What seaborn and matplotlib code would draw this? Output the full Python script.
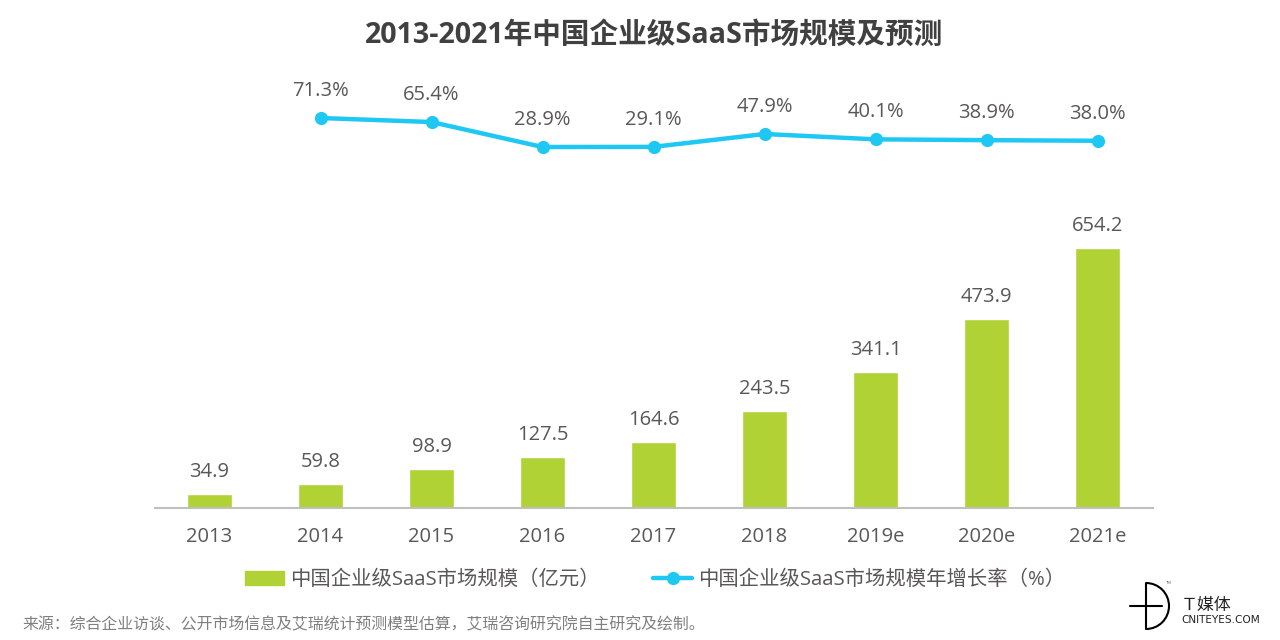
import matplotlib
matplotlib.use("Agg")
import matplotlib.pyplot as plt
from matplotlib.lines import Line2D
from matplotlib.patches import Patch, Arc
import seaborn as sns
import pandas as pd

years = ["2013", "2014", "2015", "2016", "2017", "2018", "2019e", "2020e", "2021e"]
market_size = [34.9, 59.8, 98.9, 127.5, 164.6, 243.5, 341.1, 473.9, 654.2]
growth_years = ["2014", "2015", "2016", "2017", "2018", "2019e", "2020e", "2021e"]
growth_rate = [71.3, 65.4, 28.9, 29.1, 47.9, 40.1, 38.9, 38.0]
bar_label = "中国企业级SaaS市场规模\uff08亿元\uff09"
line_label = "中国企业级SaaS市场规模年增长率\uff08%\uff09"
title = "2013-2021年中国企业级SaaS市场规模及预测"
source = ("来源\uff1a综合企业访谈、公开市场信息及艾瑞统计预测模型估算\uff0c"
          "艾瑞咨询研究院自主研究及绘制。")

GREEN = "#b0d235"
BLUE = "#1fc8f3"
TEXT = "#595757"

sns.set_theme(style="white")
plt.rcParams["font.family"] = ["Open Sans", "Noto Sans CJK SC", "DejaVu Sans"]

W, H = 1280, 640
fig = plt.figure(figsize=(12.8, 6.4), dpi=100, facecolor="white")

def px_axes(x0, y_top, x1, y_bot):
    return fig.add_axes([x0 / W, 1 - y_bot / H, (x1 - x0) / W, (y_bot - y_top) / H])

XLIM = (-54.5 / 111, 8 + 55.5 / 111)

# bars
ax = px_axes(155, 208, 1153, 508)
df = pd.DataFrame({"year": years, "value": market_size})
sns.barplot(data=df, x="year", y="value", order=years, color=GREEN, saturation=1,
            width=0.405, ax=ax)
ax.set_xlim(*XLIM)
ax.set_ylim(0, 300 / 0.398)
for i, v in enumerate(market_size):
    ax.annotate(f"{v:.1f}", (i, v), xytext=(0, 12), textcoords="offset pixels",
                ha="center", va="bottom", fontsize=14.5, color=TEXT)
sns.despine(ax=ax, left=True, top=True, right=True)
ax.spines["bottom"].set_color("#bfbfbf")
ax.spines["bottom"].set_linewidth(1.5)
ax.set_xlabel("")
ax.set_ylabel("")
ax.set_yticks([])
ax.tick_params(axis="x", length=0, pad=14, labelsize=14.5, labelcolor=TEXT)

# growth line
lax = px_axes(155, 60, 1153, 200)
lax.patch.set_alpha(0)
ldf = pd.DataFrame({"year": growth_years, "rate": growth_rate})
ldf["pos"] = [years.index(y) for y in growth_years]
sns.lineplot(data=ldf, x="pos", y="rate", color=BLUE, linewidth=3.2, marker="o",
             markersize=9.5, markeredgewidth=0, ax=lax)
lax.set_xlim(*XLIM)
# 0.684 px per percentage point, 71.3 placed at y=118
lax.set_ylim(71.3 - (200 - 118) / 0.684, 71.3 + (118 - 60) / 0.684)
for p, v in zip(ldf["pos"], growth_rate):
    lax.annotate(f"{v:.1f}%", (p, v), xytext=(0, 17), textcoords="offset pixels",
                 ha="center", va="bottom", fontsize=14.5, color=TEXT)
lax.axis("off")

# title, legend, source
fig.text(654 / W, 1 - 35 / H, title, ha="center", va="center", fontsize=20.6,
         fontweight="bold", color="#404040")
handles = [Patch(color=GREEN, label=bar_label),
           Line2D([0], [0], color=BLUE, lw=3.2, marker="o", ms=9.5, mew=0, label=line_label)]
fig.legend(handles=handles, loc="center", bbox_to_anchor=(655 / W, 1 - 580 / H), ncol=2,
           frameon=False, fontsize=14.65, labelcolor=TEXT, handlelength=1.9,
           handletextpad=0.3, columnspacing=2.65)
fig.text(22 / W, 1 - 625 / H, source, ha="left", va="center", fontsize=11.45, color="#7f7f7f")

# logo
logo = fig.add_axes([0, 0, 1, 1], facecolor="none")
logo.set_xlim(0, W)
logo.set_ylim(H, 0)
logo.axis("off")
logo.plot([1130, 1162], [606, 606], color="black", lw=1.5)
logo.plot([1146, 1146], [583, 629], color="black", lw=1.5)
logo.add_patch(Arc((1146, 606), 46, 46, theta1=-90, theta2=90, color="black", lw=1.5))
logo.text(1181, 605, "\uff34媒体", ha="left", va="center", fontsize=12.2, color="#222222",
          family="Noto Sans CJK SC")
logo.text(1181, 620, "CNITEYES.COM", ha="left", va="center", fontsize=7.6, color="#222222",
          family="DejaVu Sans")
logo.text(1166, 583, "TM", ha="left", va="center", fontsize=3, color="#555555")

fig.savefig("out.png", dpi=100)
